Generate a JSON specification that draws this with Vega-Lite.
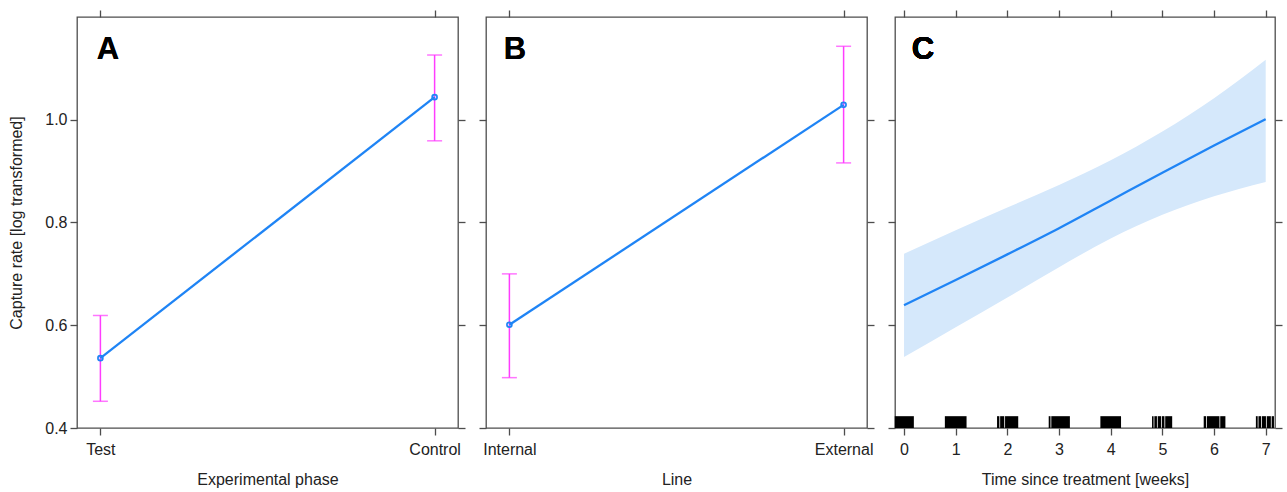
{
  "$schema": "https://vega.github.io/schema/vega-lite/v6.json",
  "padding": {"left": 8, "top": 8, "right": 8, "bottom": 4},
  "background": "white",
  "spacing": 28,
  "bounds": "flush",
  "config": {
    "font": "Liberation Sans",
    "view": {"stroke": "#4d4d4d", "strokeWidth": 1.3},
    "axis": {
      "domain": false, "grid": false,
      "tickColor": "#4d4d4d", "tickSize": 7, "tickWidth": 1.3,
      "labelFont": "Liberation Sans", "labelFontSize": 16, "labelColor": "#222222",
      "titleFont": "Liberation Sans", "titleFontSize": 16, "titleFontWeight": "normal", "titleColor": "#222222",
      "labelAngle": 0
    }
  },
  "hconcat": [
    {
      "width": 381, "height": 411,
      "data": {"values": [
        {"phase": "Test", "fit": 0.536, "lower": 0.452, "upper": 0.619},
        {"phase": "Control", "fit": 1.044, "lower": 0.959, "upper": 1.126}
      ]},
      "resolve": {"axis": {"x": "independent", "y": "independent"}},
      "layer": [
        {
          "mark": {"type": "rule", "color": "#ff3cff", "strokeWidth": 1.5},
          "encoding": {
            "x": {"field": "phase", "type": "nominal", "sort": ["Test", "Control"],
                  "scale": {"type": "point", "padding": 0.07, "domain": ["Test", "Control"]},
                  "axis": {"orient": "bottom", "title": "Experimental phase", "labelPadding": 6, "titlePadding": 14}},
            "y": {"field": "lower", "type": "quantitative", "scale": {"domain": [0.4, 1.2], "nice": false, "zero": false},
                  "axis": {"orient": "left", "values": [0.4, 0.6, 0.8, 1.0], "format": ".1f", "title": "Capture rate [log transformed]", "labelPadding": 3, "titlePadding": 20}},
            "y2": {"field": "upper"}
          }
        },
        {
          "mark": {"type": "tick", "color": "#ff3cff", "thickness": 1.5, "size": 15},
          "encoding": {
            "x": {"field": "phase", "type": "nominal", "sort": ["Test", "Control"],
                  "axis": {"orient": "top", "labels": false, "title": null}},
            "y": {"field": "upper", "type": "quantitative",
                  "axis": {"orient": "right", "values": [0.4, 0.6, 0.8, 1.0], "labels": false, "title": null}}
          }
        },
        {
          "mark": {"type": "tick", "color": "#ff3cff", "thickness": 1.5, "size": 15},
          "encoding": {
            "x": {"field": "phase", "type": "nominal", "sort": ["Test", "Control"], "axis": null},
            "y": {"field": "lower", "type": "quantitative", "axis": null}
          }
        },
        {
          "mark": {"type": "line", "color": "#1f84f5", "strokeWidth": 2.3},
          "encoding": {
            "x": {"field": "phase", "type": "nominal", "sort": ["Test", "Control"], "axis": null},
            "y": {"field": "fit", "type": "quantitative", "axis": null}
          }
        },
        {
          "mark": {"type": "point", "shape": "circle", "filled": false, "color": "#1f84f5", "strokeWidth": 1.7, "size": 24, "opacity": 1},
          "encoding": {
            "x": {"field": "phase", "type": "nominal", "sort": ["Test", "Control"], "axis": null},
            "y": {"field": "fit", "type": "quantitative", "axis": null}
          }
        },
        {
          "mark": {"type": "text", "text": "A", "fontSize": 31, "fontWeight": "bold", "color": "#000000", "align": "center", "baseline": "alphabetic", "dx": 7.5, "font": "Liberation Sans"},
          "encoding": {
            "x": {"datum": "Test", "type": "nominal", "axis": null},
            "y": {"datum": 1.1175, "type": "quantitative", "axis": null}
          }
        }
      ]
    },
    {
      "width": 381, "height": 411,
      "data": {"values": [
        {"line": "Internal", "fit": 0.601, "lower": 0.498, "upper": 0.700},
        {"line": "External", "fit": 1.029, "lower": 0.916, "upper": 1.143}
      ]},
      "resolve": {"axis": {"x": "independent", "y": "independent"}},
      "layer": [
        {
          "mark": {"type": "rule", "color": "#ff3cff", "strokeWidth": 1.5},
          "encoding": {
            "x": {"field": "line", "type": "nominal", "sort": ["Internal", "External"],
                  "scale": {"type": "point", "padding": 0.07, "domain": ["Internal", "External"]},
                  "axis": {"orient": "bottom", "title": "Line", "labelPadding": 6, "titlePadding": 14}},
            "y": {"field": "lower", "type": "quantitative", "scale": {"domain": [0.4, 1.2], "nice": false, "zero": false},
                  "axis": {"orient": "left", "values": [0.4, 0.6, 0.8, 1.0], "labels": false, "title": null}},
            "y2": {"field": "upper"}
          }
        },
        {
          "mark": {"type": "tick", "color": "#ff3cff", "thickness": 1.5, "size": 15},
          "encoding": {
            "x": {"field": "line", "type": "nominal", "sort": ["Internal", "External"],
                  "axis": {"orient": "top", "labels": false, "title": null}},
            "y": {"field": "upper", "type": "quantitative",
                  "axis": {"orient": "right", "values": [0.4, 0.6, 0.8, 1.0], "labels": false, "title": null}}
          }
        },
        {
          "mark": {"type": "tick", "color": "#ff3cff", "thickness": 1.5, "size": 15},
          "encoding": {
            "x": {"field": "line", "type": "nominal", "sort": ["Internal", "External"], "axis": null},
            "y": {"field": "lower", "type": "quantitative", "axis": null}
          }
        },
        {
          "mark": {"type": "line", "color": "#1f84f5", "strokeWidth": 2.3},
          "encoding": {
            "x": {"field": "line", "type": "nominal", "sort": ["Internal", "External"], "axis": null},
            "y": {"field": "fit", "type": "quantitative", "axis": null}
          }
        },
        {
          "mark": {"type": "point", "shape": "circle", "filled": false, "color": "#1f84f5", "strokeWidth": 1.7, "size": 24, "opacity": 1},
          "encoding": {
            "x": {"field": "line", "type": "nominal", "sort": ["Internal", "External"], "axis": null},
            "y": {"field": "fit", "type": "quantitative", "axis": null}
          }
        },
        {
          "mark": {"type": "text", "text": "B", "fontSize": 31, "fontWeight": "bold", "color": "#000000", "align": "center", "baseline": "alphabetic", "dx": 5.5, "font": "Liberation Sans"},
          "encoding": {
            "x": {"datum": "Internal", "type": "nominal", "axis": null},
            "y": {"datum": 1.1175, "type": "quantitative", "axis": null}
          }
        }
      ]
    },
    {
      "width": 380, "height": 411,
      "data": {"values": [
        {"t": 0, "fit": 0.639, "lower": 0.538, "upper": 0.739},
        {"t": 1, "fit": 0.688, "lower": 0.596, "upper": 0.785},
        {"t": 2, "fit": 0.738, "lower": 0.654, "upper": 0.829},
        {"t": 3, "fit": 0.789, "lower": 0.713, "upper": 0.873},
        {"t": 4, "fit": 0.843, "lower": 0.769, "upper": 0.921},
        {"t": 5, "fit": 0.897, "lower": 0.815, "upper": 0.977},
        {"t": 6, "fit": 0.950, "lower": 0.851, "upper": 1.042},
        {"t": 7, "fit": 1.001, "lower": 0.879, "upper": 1.117}
      ]},
      "resolve": {"axis": {"x": "independent", "y": "independent"}},
      "layer": [
        {
          "mark": {"type": "area", "color": "#d5e8fb", "opacity": 1, "interpolate": "monotone"},
          "encoding": {
            "x": {"field": "t", "type": "quantitative", "scale": {"domain": [-0.175, 7.18], "nice": false, "zero": false},
                  "axis": {"orient": "bottom", "values": [0, 1, 2, 3, 4, 5, 6, 7], "format": "d", "title": "Time since treatment [weeks]", "labelPadding": 6, "titlePadding": 14}},
            "y": {"field": "lower", "type": "quantitative", "scale": {"domain": [0.4, 1.2], "nice": false, "zero": false},
                  "axis": {"orient": "left", "values": [0.4, 0.6, 0.8, 1.0], "labels": false, "title": null}},
            "y2": {"field": "upper"}
          }
        },
        {
          "mark": {"type": "line", "color": "#1f84f5", "strokeWidth": 2.3, "interpolate": "monotone"},
          "encoding": {
            "x": {"field": "t", "type": "quantitative",
                  "axis": {"orient": "top", "values": [0, 1, 2, 3, 4, 5, 6, 7], "labels": false, "title": null}},
            "y": {"field": "fit", "type": "quantitative",
                  "axis": {"orient": "right", "values": [0.4, 0.6, 0.8, 1.0], "labels": false, "title": null}}
          }
        },
        {
          "data": {"values": [
            {"start": -0.18, "end": 0.19},
            {"start": 0.79, "end": 1.21},
            {"start": 1.80, "end": 1.845},
            {"start": 1.86, "end": 1.94},
            {"start": 1.955, "end": 2.21},
            {"start": 2.80, "end": 2.835},
            {"start": 2.85, "end": 3.21},
            {"start": 3.80, "end": 4.20},
            {"start": 4.80, "end": 4.83},
            {"start": 4.845, "end": 4.895},
            {"start": 4.91, "end": 4.975},
            {"start": 4.99, "end": 5.04},
            {"start": 5.055, "end": 5.19},
            {"start": 5.80, "end": 5.845},
            {"start": 5.86, "end": 6.105},
            {"start": 6.12, "end": 6.22},
            {"start": 6.81, "end": 6.845},
            {"start": 6.86, "end": 6.91},
            {"start": 6.925, "end": 7.005},
            {"start": 7.02, "end": 7.10},
            {"start": 7.115, "end": 7.16}
          ]},
          "mark": {"type": "rect", "color": "#000000"},
          "encoding": {
            "x": {"field": "start", "type": "quantitative", "axis": null},
            "x2": {"field": "end"},
            "y": {"datum": 0.4, "type": "quantitative", "axis": null},
            "y2": {"datum": 0.423}
          }
        },
        {
          "mark": {"type": "text", "text": "C", "fontSize": 31, "fontWeight": "bold", "color": "#000000", "align": "center", "baseline": "alphabetic", "font": "Liberation Sans"},
          "encoding": {
            "x": {"datum": 0.368, "type": "quantitative", "axis": null},
            "y": {"datum": 1.118, "type": "quantitative", "axis": null}
          }
        }
      ]
    }
  ]
}
